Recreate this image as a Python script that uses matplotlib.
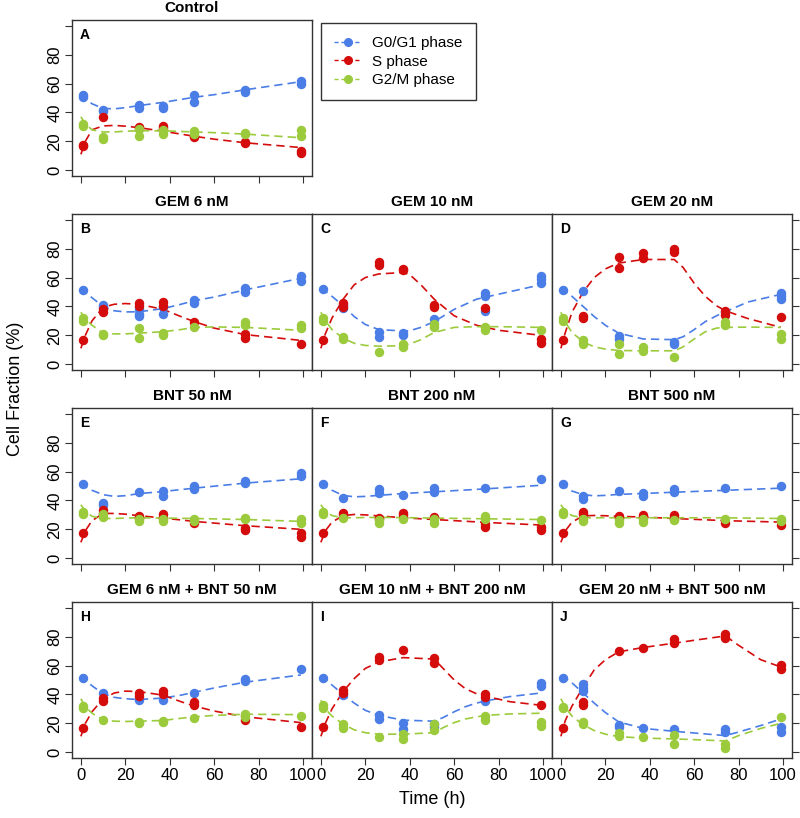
import matplotlib
matplotlib.use('Agg')
import matplotlib.pyplot as plt
from matplotlib.lines import Line2D

plt.rcParams['font.family'] = ['Liberation Sans', 'DejaVu Sans']

# sampling times (h)
t_obs = [1, 10, 26, 37, 51, 74, 99]

# replicate readings per time point (% of cells)
A_g1 = [[52, 51], [42, 41], [45, 43.3], [44.5, 43.3], [52, 47.5], [55.5, 54], [61.7, 60]]
A_s = [[17.7, 16.5], [36.5], [29.8, 29], [30.5, 29.4], [23.6, 23.2], [19.3, 18.6], [13.5, 12]]
A_g2 = [[31.7, 30.3], [22.7, 21.6], [28.4, 23.9], [28, 24.8], [27, 25.2], [25.5, 25], [27.8, 23.9]]

B_g1 = [[51.4], [41, 39.4], [38, 35, 33.3], [39.4, 34.7], [44.4, 42.6], [52.5, 50.2], [61.1, 57.9]]
B_s = [[16.7], [38, 36.1], [42.1, 40.3], [42.8, 40.3], [29.4], [20.6, 18.3], [13.7]]
B_g2 = [[31.7, 30], [20.8, 19.9], [24.8, 18.3], [21.3, 19.9], [25.9], [29.2, 27.3], [27, 24.8]]

C_g1 = [[51.9], [41, 39], [22.5, 19], [21.3, 19.9], [31], [49.5, 47.2, 37], [61.1, 58.8, 56.5]]
C_s = [[16.7], [42.1, 39.4], [71, 68.8], [66, 65.3], [41, 39.4], [38.7], [17.4, 14.8]]
C_g2 = [[31.7, 30], [19, 17.6], [8.6], [13.7, 11.6], [27.8, 25.9], [25.9, 23.6], [23.6]]

D_g1 = [[51.4], [50.7], [19.4, 17.8], [], [15.5, 13.9], [36], [49, 47.2, 45.1]]
D_s = [[16.7], [33.3, 31.7], [74, 66.4], [77.3, 73.8], [79.6, 78], [37, 34], [32.4]]
D_g2 = [[31.7, 30], [16.7, 13.9], [13.9, 7.4], [11.6, 9.3], [5.1], [29.4, 27], [20.8, 17.8]]

E_g1 = [[51.7], [38.4, 36.6], [45.7], [46.2, 43.4], [50.3, 47.6], [53.3, 52.2], [59.1, 57.2]]
E_s = [[17.7], [33.3, 31.5], [29.2, 28], [30.3, 28], [24.1], [21.1, 19.5], [17.2, 14.9]]
E_g2 = [[32, 30.6], [30.3, 28.7], [27.4, 26], [27.4, 25.5], [27.4, 25.7], [27.8, 26.9], [26.9, 24.6]]

F_g1 = [[51.7], [41.8], [47.6, 45.3], [43.7], [48.3, 46], [48.7], [54.5]]
F_s = [[17.2], [31, 29.7], [28, 26.9], [31.5, 29.7], [28.5], [23.9, 21.8], [21.6, 19.5]]
F_g2 = [[32, 30.6], [28], [26.4, 24.1], [26.9], [26.9, 24.6], [29.2, 27.4], [26.4]]

G_g1 = [[51.7], [43.4, 41.1], [46.4], [45.3, 43.4], [48, 45.7], [48.7], [50.3]]
G_s = [[17.7], [32, 30.3], [29.2, 28], [30.1, 28.7], [29.7, 26.9], [24.6], [23.2]]
G_g2 = [[32, 30.6], [27.4, 25.7], [26.4, 24.1], [26.9, 25], [26.4], [27.4], [27.4, 26]]

H_g1 = [[51.7], [41.1], [36], [36], [41.3], [51, 49.4], [57.3]]
H_s = [[17.1], [37.2, 35.6], [41.1, 38.8], [42.5, 40.6], [34.9, 32.6], [22.6], [17.6]]
H_g2 = [[31.9, 30.5], [22.2], [21, 19.9], [21.7, 20.8], [24], [26.8, 24.5], [25.2]]

I_g1 = [[51.7], [39.5], [25.6, 23.3], [19.9, 16.4], [19.4, 17.6], [35.6], [48, 45.7]]
I_s = [[17.6], [43, 41.1], [66, 63.7], [70.7], [64.9, 61.9], [40.2, 38.3], [32.6]]
I_g2 = [[32.6, 30.9], [19.4, 17.1], [10.2], [12.5, 9.5], [19.4, 15.7], [24.9, 22.6], [20.6, 18.5]]

J_g1 = [[51.7], [47.1, 44.8, 42.5], [18.9, 17.3], [16.6], [15.9], [15.9, 14.1], [17.6, 14.1]]
J_s = [[17.1], [34.9, 32.6], [70.2], [72.5], [78.1, 75.8], [81.8, 78.8], [60.3, 57.3]]
J_g2 = [[31.4, 30.3], [21, 19.4], [13.4, 11.1], [10.6], [11.8, 5.5], [5.5, 3.2], [24.5]]

# model fits
A_tc = [0, 2, 5, 10, 15, 20, 26, 37, 51, 60, 74, 99]
A_g1_fit = [53, 49.5, 46, 42.8, 42.5, 43.3, 44.7, 47, 50.5, 52.3, 55.7, 61.3]
A_s_fit = [11, 20, 28, 30.7, 31, 30.5, 29.5, 27, 23.5, 21.5, 19, 15.7]
A_g2_fit = [37, 32, 28, 26.5, 26.5, 27, 27.3, 27.3, 26.5, 26, 25, 22.5]

B_tc = [0, 2, 5, 10, 15, 20, 26, 37, 45, 51, 60, 74, 99]
B_g1_fit = [53, 50, 46, 40, 37, 36.2, 36.3, 38.5, 41.5, 44, 46.5, 51.5, 59.5]
B_s_fit = [11, 20, 30, 39.5, 41.5, 42, 41.5, 38, 33, 29.5, 25, 20.5, 16.5]
B_g2_fit = [36, 31, 27, 21.5, 21, 21, 21.5, 22.5, 24, 25.5, 25.8, 25.5, 23.5]

C_tc = [0, 2, 5, 10, 15, 20, 26, 37, 40, 45, 51, 60, 70, 80, 99]
C_g1_fit = [53, 50.5, 47, 40.5, 33, 27.5, 24, 23, 23.2, 25.5, 29.5, 38, 45, 48.5, 55]
C_s_fit = [11, 21, 32, 45, 55, 60, 62.5, 63.5, 62, 55, 45, 33.5, 27, 23.5, 20]
C_g2_fit = [36, 30, 24, 18, 14.5, 13, 12.5, 12.8, 14, 17, 22, 25.5, 26, 26, 25.5]

D_tc = [0, 2, 5, 10, 15, 20, 26, 37, 51, 55, 60, 65, 70, 74, 84, 99]
D_g1_fit = [53, 50.5, 47, 40, 33, 27, 21.5, 17.5, 17, 19, 24, 29.5, 33.5, 36.3, 43, 48.4]
D_s_fit = [11, 22, 36, 50, 60, 66, 70, 72.5, 72.5, 67, 56, 47, 40.5, 37, 31.7, 25.5]
D_g2_fit = [36, 29, 22, 15.5, 12, 10.5, 9.5, 9.3, 9.3, 12, 17.5, 22.5, 25, 25.5, 25.7, 25.5]

E_tc = [0, 2, 5, 10, 15, 20, 26, 37, 51, 74, 99]
E_g1_fit = [52.5, 49.5, 47, 44, 42.8, 43.3, 44.7, 46.2, 48.5, 52, 55]
E_s_fit = [11, 19, 26, 31, 31, 30.5, 29.5, 27.8, 25.5, 22.5, 20]
E_g2_fit = [37, 32.5, 29, 27.5, 27.5, 27.8, 28, 27.8, 27.5, 26.8, 25.5]

F_tc = [0, 2, 5, 10, 15, 20, 26, 37, 51, 74, 99]
F_g1_fit = [52.5, 49.5, 47, 43.5, 42.5, 42.8, 43.5, 44.8, 46, 48, 50.5]
F_s_fit = [11, 19, 25, 29.5, 30.3, 30, 29.3, 28, 26.8, 24.8, 23]
F_g2_fit = [37, 32.5, 29.5, 28, 28, 28.2, 28.3, 28.1, 27.8, 27.3, 26.8]

G_tc = [0, 2, 5, 10, 15, 20, 26, 37, 51, 74, 99]
G_g1_fit = [52.5, 49.5, 46.5, 44, 43.2, 43.5, 44.2, 44.8, 45.7, 47, 48.5]
G_s_fit = [11, 19, 25, 29.3, 29.6, 29.4, 29, 28.5, 27.5, 26, 25]
G_g2_fit = [37, 32.5, 29.5, 28, 28, 28, 28, 28, 28, 28, 27.5]

H_tc = [0, 2, 5, 10, 15, 20, 26, 37, 45, 51, 60, 74, 99]
H_g1_fit = [53.5, 50, 46, 40.5, 38, 37, 36.5, 37.5, 39.5, 41.5, 44.5, 48.5, 53.5]
H_s_fit = [11, 20, 28, 37, 41, 42.3, 42, 39.5, 35, 32, 28.5, 24.5, 20.5]
H_g2_fit = [37, 31.5, 27, 22.5, 21.5, 21.3, 21.5, 22, 23.5, 24.5, 25.5, 26.3, 26]

I_tc = [0, 2, 5, 10, 15, 20, 26, 37, 51, 55, 60, 65, 70, 74, 85, 99]
I_g1_fit = [53, 50.5, 46.5, 40, 34, 29, 25.5, 22.2, 21.5, 24, 28, 31.5, 34, 35.5, 38.5, 41]
I_s_fit = [11, 20, 30, 42, 51, 58, 62.5, 65.5, 64.5, 58, 50, 44, 40.5, 38.8, 35, 32.5]
I_g2_fit = [36, 30, 25, 19.5, 15.5, 13.5, 12.5, 12.5, 13.5, 17, 20.5, 23, 24.5, 25.5, 26.5, 27]

J_tc = [0, 2, 5, 10, 15, 20, 26, 37, 51, 60, 74, 80, 90, 99]
J_g1_fit = [53, 51.5, 48, 41, 34, 27.5, 21, 16.5, 14.5, 13.3, 11.5, 14, 18.5, 23]
J_s_fit = [11, 22, 32, 45, 57, 64, 69.5, 72.5, 75.5, 77.5, 80.5, 74, 64, 59]
J_g2_fit = [37, 31, 25, 19, 15, 12.5, 10.8, 9.8, 9.2, 8.7, 7.8, 11.5, 16.5, 20]

phase_names = ['G0/G1 phase', 'S phase', 'G2/M phase']
colors = ['#4A7DE6', '#D40C0C', '#9BCB3C']

# letter, title, row, col, points, curve times, curves
panels = [
    ('A', 'Control', 0, 0, (A_g1, A_s, A_g2), A_tc, (A_g1_fit, A_s_fit, A_g2_fit)),
    ('B', 'GEM 6 nM', 1, 0, (B_g1, B_s, B_g2), B_tc, (B_g1_fit, B_s_fit, B_g2_fit)),
    ('C', 'GEM 10 nM', 1, 1, (C_g1, C_s, C_g2), C_tc, (C_g1_fit, C_s_fit, C_g2_fit)),
    ('D', 'GEM 20 nM', 1, 2, (D_g1, D_s, D_g2), D_tc, (D_g1_fit, D_s_fit, D_g2_fit)),
    ('E', 'BNT 50 nM', 2, 0, (E_g1, E_s, E_g2), E_tc, (E_g1_fit, E_s_fit, E_g2_fit)),
    ('F', 'BNT 200 nM', 2, 1, (F_g1, F_s, F_g2), F_tc, (F_g1_fit, F_s_fit, F_g2_fit)),
    ('G', 'BNT 500 nM', 2, 2, (G_g1, G_s, G_g2), G_tc, (G_g1_fit, G_s_fit, G_g2_fit)),
    ('H', 'GEM 6 nM + BNT 50 nM', 3, 0, (H_g1, H_s, H_g2), H_tc, (H_g1_fit, H_s_fit, H_g2_fit)),
    ('I', 'GEM 10 nM + BNT 200 nM', 3, 1, (I_g1, I_s, I_g2), I_tc, (I_g1_fit, I_s_fit, I_g2_fit)),
    ('J', 'GEM 20 nM + BNT 500 nM', 3, 2, (J_g1, J_s, J_g2), J_tc, (J_g1_fit, J_s_fit, J_g2_fit)),
]

W, H = 800, 818
fig = plt.figure(figsize=(W / 100, H / 100), dpi=100)

col_left = [72, 312, 552]
row_top = [20, 214, 408, 602]
pw, ph = 240, 156

for letter, title, r, c, pts, tc, fits in panels:
    ax = fig.add_axes([col_left[c] / W, 1 - (row_top[r] + ph) / H, pw / W, ph / H])
    for k in range(3):
        xs = [t for t, reps in zip(t_obs, pts[k]) for v in reps]
        ys = [v for t, reps in zip(t_obs, pts[k]) for v in reps]
        ax.plot(xs, ys, 'o', color=colors[k], ms=5.8, mec=colors[k], zorder=3)
        ax.plot(tc, fits[k], color=colors[k], lw=1.2, dashes=(5, 3), zorder=2)
    ax.set_xlim(-4, 104)
    ax.set_ylim(-4, 104)
    ax.set_xticks(range(0, 101, 20))
    ax.set_yticks(range(0, 101, 20))
    ax.tick_params(direction='out', length=5, width=0.8, color='#333333',
                   labelsize=12, pad=2)
    if r == 3:
        ax.set_xticklabels([str(v) for v in range(0, 101, 20)])
    else:
        ax.set_xticklabels([])
    if c == 0:
        ax.set_yticklabels(['0', '20', '40', '60', '80', ''], rotation=90, va='center')
    elif c == 2:
        ax.yaxis.tick_right()
        ax.set_yticklabels([])
    else:
        ax.tick_params(axis='y', left=False, labelleft=False)
    for s in ax.spines.values():
        s.set_linewidth(1.0)
        s.set_color('#333333')
    ax.set_title(title, fontsize=11, fontweight='bold', pad=6)
    ax.text(8 / pw, 1 - 8 / ph, letter, transform=ax.transAxes, ha='left', va='top',
            fontsize=10, fontweight='bold')

handles = [Line2D([], [], color=colors[k], marker='o', ms=5.5, lw=1.0, dashes=(3, 2))
           for k in range(3)]
fig.legend(handles, phase_names, loc='upper left', bbox_to_anchor=(321 / W, 1 - 23 / H),
           frameon=True, fancybox=False, edgecolor='#333333', framealpha=1,
           fontsize=11, handlelength=1.8, handletextpad=0.7, borderpad=0.85,
           labelspacing=0.3, borderaxespad=0)

fig.text(16 / W, 1 - 389 / H, 'Cell Fraction (%)', rotation=90, ha='center', va='center',
         fontsize=13)
fig.text(432 / W, 1 - 800 / H, 'Time (h)', ha='center', va='center', fontsize=13)

fig.savefig('out.png', dpi=100)
